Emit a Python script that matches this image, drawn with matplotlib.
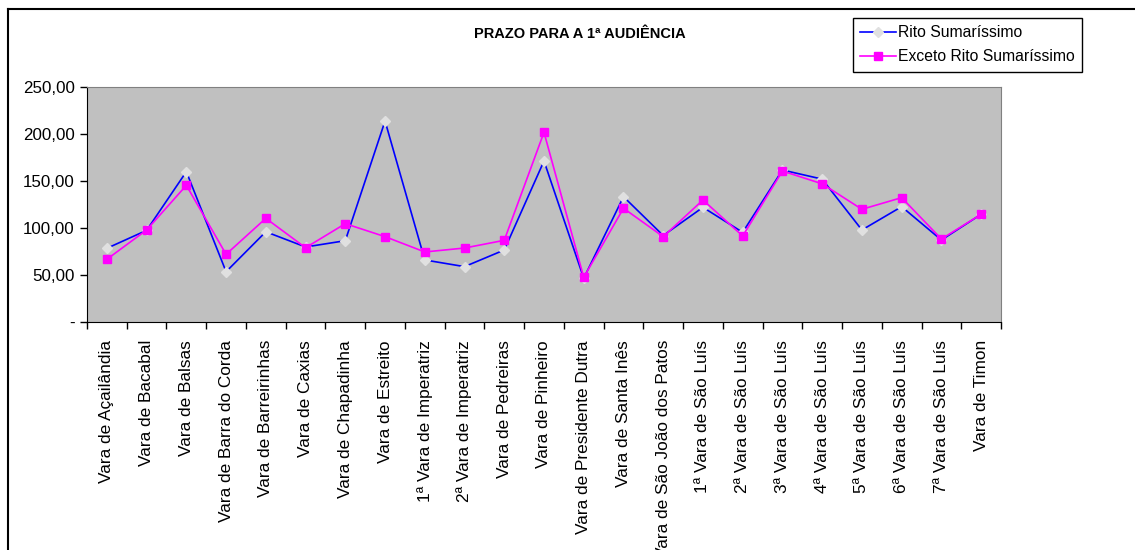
import matplotlib.pyplot as plt
from matplotlib.lines import Line2D

plt.rcParams['font.family'] = ['Liberation Sans', 'DejaVu Sans']

# categories (varas)
VARAS = ["Vara de Açailândia", "Vara de Bacabal", "Vara de Balsas",
         "Vara de Barra do Corda", "Vara de Barreirinhas", "Vara de Caxias",
         "Vara de Chapadinha", "Vara de Estreito", "1ª Vara de Imperatriz",
         "2ª Vara de Imperatriz", "Vara de Pedreiras", "Vara de Pinheiro",
         "Vara de Presidente Dutra", "Vara de Santa Inês",
         "Vara de São João dos Patos", "1ª Vara de São Luís",
         "2ª Vara de São Luís", "3ª Vara de São Luís", "4ª Vara de São Luís",
         "5ª Vara de São Luís", "6ª Vara de São Luís", "7ª Vara de São Luís",
         "Vara de Timon"]

RITO_SUM = [78.4, 97.5, 159.9, 53.5, 96.0, 79.8, 86.5, 213.8, 66.0, 58.9,
            76.6, 171.3, 46.5, 133.3, 92.0, 122.0, 95.4, 161.7, 152.0, 97.9,
            122.7, 87.2, 114.6]
EXCETO_SUM = [66.7, 97.9, 145.4, 72.0, 110.3, 79.0, 104.6, 90.8, 74.5, 78.7,
              86.9, 201.8, 47.5, 121.0, 90.8, 129.8, 91.5, 160.6, 147.0, 119.9,
              132.3, 88.3, 114.6]

Y_TICKS = [0, 50, 100, 150, 200, 250]
Y_LABELS = ["-", "50,00", "100,00", "150,00", "200,00", "250,00"]

W, H = 1135, 550
fig = plt.figure(figsize=(W / 100, H / 100), dpi=100)

# outer chart border (only left and top visible)
fig.add_artist(Line2D([8 / W, 8 / W], [0, 1 - 9 / H], color="black", lw=1.5))
fig.add_artist(Line2D([8 / W, 1], [1 - 9 / H, 1 - 9 / H], color="black", lw=1.5))

ax = fig.add_axes([87 / W, 1 - 322 / H, (1001 - 87) / W, (322 - 87) / H])
ax.set_facecolor("#C0C0C0")

x = list(range(len(VARAS)))
ax.plot(x, RITO_SUM, color="#0000FF", lw=1.2, marker="D", markersize=5,
        markerfacecolor="#E0E0E0", markeredgecolor="#E0E0E0",
        label="Rito Sumaríssimo")
ax.plot(x, EXCETO_SUM, color="#FF00FF", lw=1.2, marker="s", markersize=6,
        markerfacecolor="#FF00FF", markeredgecolor="#FF00FF",
        label="Exceto Rito Sumaríssimo")

ax.set_xlim(-0.5, len(VARAS) - 0.5)
ax.set_ylim(0, 250)
ax.set_yticks(Y_TICKS)
ax.set_yticklabels(Y_LABELS, fontsize=12.2)
ax.tick_params(axis="y", direction="out", length=5, width=1, pad=4)

ax.set_xticks(x)
ax.set_xticklabels(VARAS, rotation=90, fontsize=12.4)
ax.set_xticks([i - 0.5 for i in range(len(VARAS) + 1)], minor=True)
ax.tick_params(axis="x", which="major", length=0, pad=13)
ax.tick_params(axis="x", which="minor", direction="out", length=5, width=1)

for side in ("top", "right"):
    ax.spines[side].set_color("#808080")
for side in ("left", "bottom"):
    ax.spines[side].set_color("black")

fig.text(580 / W, 1 - 34 / H, "PRAZO PARA A 1ª AUDIÊNCIA", fontsize=10.5,
         fontweight="bold", ha="center", va="center")

leg = ax.legend(loc="upper left", bbox_to_anchor=(853 / W, 1 - 18 / H),
                bbox_transform=fig.transFigure, fontsize=11.3, frameon=True,
                fancybox=False, edgecolor="black", framealpha=1,
                handlelength=2.3, handletextpad=0.1, borderpad=0.45,
                labelspacing=0.6, borderaxespad=0)
leg.get_frame().set_linewidth(1)

fig.savefig("out.png", dpi=100)
